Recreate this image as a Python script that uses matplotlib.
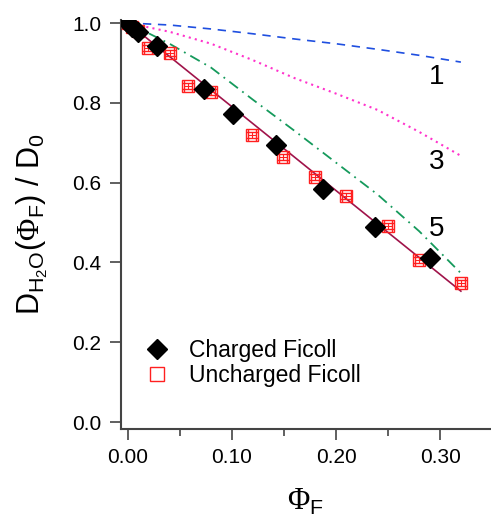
import numpy as np
import matplotlib
matplotlib.use("Agg")
from matplotlib import pyplot as plt
from matplotlib.ticker import MultipleLocator, FormatStrFormatter

plt.rcParams['font.family'] = ['Liberation Sans', 'DejaVu Sans']
plt.rcParams['mathtext.fontset'] = 'custom'
plt.rcParams['mathtext.rm'] = 'Liberation Sans'
plt.rcParams['mathtext.it'] = 'Liberation Sans'
plt.rcParams['mathtext.sf'] = 'Liberation Serif'  # serif Phi

# charged ficoll (black diamonds)
charged_x = [0.0, 0.004, 0.0096, 0.028, 0.073, 0.101, 0.142, 0.187, 0.237, 0.290]
charged_y = [1.0, 0.99, 0.977, 0.942, 0.835, 0.772, 0.694, 0.584, 0.489, 0.411]

# uncharged ficoll (red open squares with error bars)
unch_x = [0.0, 0.004, 0.010, 0.019, 0.040, 0.058, 0.080, 0.119, 0.149, 0.180, 0.210, 0.250, 0.280, 0.320]
unch_y = [1.0, 0.99, 0.98, 0.937, 0.925, 0.842, 0.827, 0.719, 0.664, 0.614, 0.566, 0.491, 0.406, 0.348]
unch_err = [0.008] * len(unch_x)

# linear fit
fit_x = [0.0, 0.32]
fit_y = [1.0, 0.328]

# model curves
curve_x = [0.0, 0.04, 0.08, 0.12, 0.16, 0.20, 0.24, 0.28, 0.32]
curve1_y = [1.0, 0.995, 0.985, 0.973, 0.960, 0.948, 0.934, 0.919, 0.902]
curve3_y = [1.0, 0.978, 0.948, 0.907, 0.862, 0.823, 0.782, 0.727, 0.667]
curve5_y = [1.0, 0.948, 0.888, 0.808, 0.730, 0.650, 0.570, 0.478, 0.373]

labels = ['1', '3', '5']
label_pos = [(0.289, 0.865), (0.289, 0.652), (0.289, 0.484)]

fig = plt.figure(figsize=(4.91, 5.17), dpi=100)
ax = fig.add_axes([0.2464, 0.1702, 0.7516, 0.7911])

ax.plot(curve_x, curve1_y, color='#1f4fe0', lw=1.2, ls=(0, (5, 4)))
ax.plot(curve_x, curve3_y, color='#ff33cc', lw=1.5, ls=(0, (1, 2)))
ax.plot(curve_x, curve5_y, color='#159a5c', lw=1.3, ls=(0, (6, 3, 1, 3)))
ax.plot(fit_x, fit_y, color='#a0134a', lw=1.2)

ax.errorbar(unch_x, unch_y, yerr=unch_err, xerr=0.004, fmt='s', ms=9, mfc='none',
            mec='#ff2020', mew=1.0, ecolor='#ff2020', elinewidth=0.8, capsize=4,
            capthick=0.8, zorder=3)
ax.plot(charged_x, charged_y, 'D', color='black', ms=10, zorder=4)

for lab, (lx, ly) in zip(labels, label_pos):
    ax.text(lx, ly, lab, fontsize=20, ha='left', va='center')

# legend handles
h1, = ax.plot([], [], 'D', color='black', ms=10)
h2, = ax.plot([], [], 's', ms=10, mfc='none', mec='#ff2020', mew=1.0)
leg = ax.legend([h1, h2], ['Charged Ficoll', 'Uncharged Ficoll'], loc='upper left',
                bbox_to_anchor=(-0.02, 0.27), frameon=False, fontsize=16.5,
                handletextpad=0.4, labelspacing=0.1)

ax.set_xlim(-0.0067, 0.348)
ax.set_ylim(-0.0175, 1.0075)
ax.xaxis.set_major_locator(MultipleLocator(0.1))
ax.xaxis.set_minor_locator(MultipleLocator(0.05))
ax.yaxis.set_major_locator(MultipleLocator(0.2))
ax.xaxis.set_major_formatter(FormatStrFormatter('%.2f'))
ax.yaxis.set_major_formatter(FormatStrFormatter('%.1f'))

for s in ['top', 'right']:
    ax.spines[s].set_visible(False)
for s in ['left', 'bottom']:
    ax.spines[s].set_color('#444444')
    ax.spines[s].set_linewidth(1.5)

ax.tick_params(which='major', direction='out', length=8, width=1.2, color='#444444',
               labelsize=15, pad=6)
ax.tick_params(which='minor', direction='out', length=5, width=1.2, color='#444444')

ax.set_xlabel(r'$\mathsf{\Phi}_\mathrm{F}$', fontsize=22, labelpad=14)
ax.set_ylabel(r'$\mathrm{D}_{\mathrm{H}_2\mathrm{O}}(\mathsf{\Phi}_\mathrm{F})\ /\ \mathrm{D}_0$',
              fontsize=22, labelpad=16)

fig.savefig('out.png', dpi=100)
